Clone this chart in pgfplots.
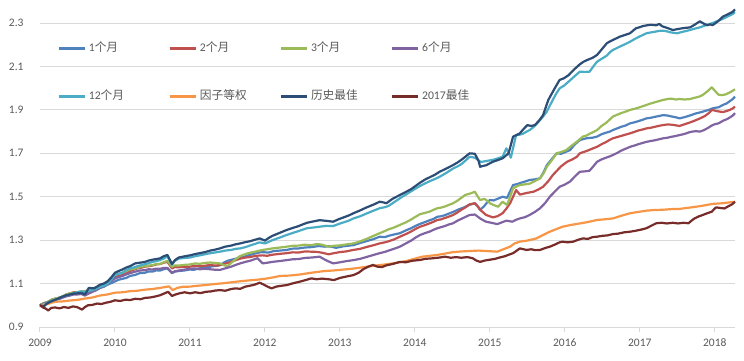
\documentclass[border=0pt]{standalone}
\usepackage{fontspec}
\setmainfont{Carlito}
\newfontfamily\cjk{Noto Sans CJK SC}
\usepackage{pgfplots}
\pgfplotsset{compat=1.18}
\definecolor{s1}{HTML}{4F81BD}
\definecolor{s2}{HTML}{C0504D}
\definecolor{s3}{HTML}{9BBB59}
\definecolor{s4}{HTML}{8064A2}
\definecolor{s5}{HTML}{4BACC6}
\definecolor{s6}{HTML}{F79646}
\definecolor{s7}{HTML}{2C4D75}
\definecolor{s8}{HTML}{772C2A}
\definecolor{txt}{HTML}{595959}
\definecolor{grd}{HTML}{D9D9D9}
\newcommand{\legtxt}[1]{\makebox[79.5pt][l]{#1}}
\begin{document}
\begin{tikzpicture}
\useasboundingbox (-40pt,-33pt) rectangle (704pt,327pt);
\begin{axis}[
  at={(0pt,0pt)}, anchor=south west,
  scale only axis, width=695pt, height=325.65pt,
  xmin=2009, xmax=2018.27, ymin=0.9, ymax=2.4,
  axis x line*=bottom, axis y line*=left,
  y axis line style={draw=none},
  x axis line style={draw=grd, line width=1pt},
  xtick={2009,2010,...,2018},
  ytick={0.9,1.1,1.3,1.5,1.7,1.9,2.1,2.3},
  xticklabels={2009,2010,2011,2012,2013,2014,2015,2016,2017,2018},
  yticklabels={0.9,1.1,1.3,1.5,1.7,1.9,2.1,2.3},
  tick align=outside,
  major tick length=5pt,
  xtick style={draw=grd, line width=1pt},
  ytick style={draw=none},
  ymajorgrids, grid style={draw=grd, line width=1pt},
  tick label style={font=\fontsize{11.5}{13}\selectfont, text=txt},
  yticklabel style={xshift=-8pt},
  xticklabel style={yshift=-3pt},
  clip=false,
  every axis plot/.append style={line width=2.2pt, line join=round},
  legend columns=4,
  legend cell align=left,
  legend style={at={(axis description cs:0.0245,0.872)}, anchor=north west,
    draw=none, fill=none, inner sep=0pt, row sep=38pt,
    font=\fontsize{11.7}{13}\selectfont, text=txt,
    nodes={inner sep=0pt, text height=8pt, text depth=2pt},
    /tikz/every odd column/.append style={column sep=3pt}},
  legend image code/.code={\draw[#1, line width=2.6pt] (0pt,0pt) -- (26pt,0pt);},
]
% 1个月
\addplot[s1] coordinates {
(2009.00,1.000)(2009.05,1.008)(2009.10,1.012)(2009.15,1.024)(2009.20,1.030)(2009.25,1.033)(2009.30,1.040)(2009.35,1.046)(2009.40,1.050)(2009.45,1.056)(2009.50,1.055)(2009.55,1.058)(2009.60,1.050)(2009.65,1.058)(2009.70,1.065)(2009.75,1.070)(2009.80,1.080)(2009.85,1.085)(2009.90,1.095)(2009.95,1.102)
(2010.00,1.110)(2010.05,1.118)(2010.10,1.122)(2010.15,1.126)(2010.20,1.135)(2010.27,1.140)(2010.33,1.148)(2010.40,1.150)(2010.45,1.156)(2010.50,1.155)(2010.55,1.161)(2010.60,1.160)(2010.65,1.166)(2010.70,1.170)(2010.76,1.148)(2010.80,1.155)(2010.85,1.158)(2010.92,1.160)
(2011.00,1.165)(2011.05,1.163)(2011.10,1.168)(2011.15,1.172)(2011.20,1.175)(2011.25,1.176)(2011.30,1.180)(2011.35,1.181)(2011.40,1.185)(2011.45,1.196)(2011.50,1.205)(2011.58,1.212)(2011.67,1.220)(2011.73,1.224)(2011.80,1.232)(2011.88,1.240)(2011.95,1.245)(2012.05,1.243)(2012.12,1.250)(2012.20,1.252)(2012.29,1.255)(2012.37,1.261)(2012.45,1.262)(2012.53,1.266)(2012.62,1.268)(2012.72,1.273)(2012.80,1.270)(2012.85,1.272)(2012.95,1.265)
(2013.05,1.272)(2013.10,1.274)(2013.18,1.277)(2013.27,1.287)(2013.35,1.295)(2013.45,1.305)(2013.53,1.316)(2013.60,1.314)(2013.65,1.320)(2013.72,1.326)(2013.80,1.332)(2013.88,1.345)(2013.95,1.355)(2014.01,1.366)(2014.07,1.375)(2014.14,1.384)(2014.20,1.392)(2014.25,1.398)(2014.30,1.408)(2014.35,1.410)(2014.40,1.415)(2014.45,1.422)(2014.51,1.430)(2014.58,1.441)(2014.65,1.450)(2014.72,1.462)(2014.80,1.470)(2014.84,1.455)(2014.87,1.440)(2014.92,1.455)(2014.96,1.472)
(2015.00,1.485)(2015.05,1.483)(2015.10,1.490)(2015.17,1.500)(2015.23,1.495)(2015.27,1.525)(2015.31,1.554)(2015.36,1.558)(2015.42,1.565)(2015.47,1.570)(2015.53,1.577)(2015.60,1.580)(2015.67,1.585)(2015.72,1.615)(2015.76,1.645)(2015.83,1.675)(2015.89,1.700)(2015.95,1.698)
(2016.00,1.705)(2016.07,1.715)(2016.13,1.740)(2016.20,1.761)(2016.25,1.766)(2016.30,1.770)(2016.37,1.772)(2016.43,1.777)(2016.49,1.788)(2016.55,1.795)(2016.60,1.800)(2016.64,1.807)(2016.70,1.815)(2016.75,1.822)(2016.81,1.828)(2016.87,1.838)(2016.93,1.843)(2016.98,1.848)(2017.04,1.855)
(2017.09,1.861)(2017.15,1.864)(2017.20,1.868)(2017.26,1.872)(2017.31,1.876)(2017.37,1.874)(2017.42,1.870)(2017.48,1.866)(2017.53,1.861)(2017.59,1.866)(2017.65,1.872)(2017.70,1.878)(2017.75,1.884)(2017.81,1.889)(2017.87,1.895)(2017.92,1.900)(2017.97,1.907)(2018.01,1.910)(2018.05,1.912)(2018.11,1.923)(2018.16,1.930)(2018.20,1.940)(2018.24,1.950)(2018.27,1.961)};
\addlegendentry{\legtxt{1{\cjk 个月}}}
% 2个月
\addplot[s2] coordinates {
(2009.00,1.000)(2009.05,1.010)(2009.10,1.015)(2009.15,1.025)(2009.20,1.030)(2009.25,1.034)(2009.30,1.040)(2009.35,1.050)(2009.40,1.055)(2009.45,1.060)(2009.50,1.060)(2009.55,1.063)(2009.60,1.062)(2009.65,1.066)(2009.70,1.072)(2009.75,1.078)(2009.80,1.088)(2009.85,1.095)(2009.90,1.105)(2009.95,1.118)
(2010.00,1.131)(2010.05,1.135)(2010.10,1.140)(2010.15,1.150)(2010.20,1.158)(2010.25,1.164)(2010.30,1.170)(2010.35,1.173)(2010.40,1.178)(2010.45,1.180)(2010.50,1.183)(2010.55,1.188)(2010.60,1.190)(2010.65,1.196)(2010.70,1.200)(2010.76,1.170)(2010.80,1.176)(2010.85,1.175)(2010.92,1.178)
(2011.00,1.178)(2011.07,1.182)(2011.13,1.180)(2011.20,1.182)(2011.27,1.186)(2011.33,1.183)(2011.40,1.185)(2011.47,1.192)(2011.55,1.200)(2011.61,1.208)(2011.67,1.215)(2011.74,1.220)(2011.80,1.222)(2011.88,1.228)(2011.97,1.230)(2012.03,1.228)(2012.10,1.233)(2012.20,1.237)(2012.29,1.240)(2012.37,1.244)(2012.45,1.243)(2012.53,1.248)(2012.62,1.247)(2012.69,1.246)(2012.75,1.243)(2012.85,1.235)(2012.92,1.240)
(2013.00,1.245)(2013.08,1.248)(2013.18,1.255)(2013.27,1.260)(2013.35,1.268)(2013.45,1.277)(2013.53,1.285)(2013.60,1.290)(2013.65,1.295)(2013.72,1.303)(2013.80,1.316)(2013.88,1.328)(2013.95,1.340)(2014.01,1.352)(2014.07,1.362)(2014.14,1.370)(2014.20,1.378)(2014.25,1.385)(2014.30,1.393)(2014.35,1.396)(2014.40,1.402)(2014.45,1.408)(2014.51,1.416)(2014.57,1.428)(2014.62,1.440)(2014.68,1.452)(2014.73,1.465)(2014.80,1.470)(2014.84,1.455)(2014.87,1.440)(2014.91,1.428)(2014.95,1.416)
(2015.00,1.410)(2015.04,1.405)(2015.10,1.410)(2015.17,1.424)(2015.22,1.445)(2015.27,1.470)(2015.31,1.500)(2015.35,1.531)(2015.40,1.510)(2015.45,1.514)(2015.50,1.518)(2015.58,1.523)(2015.64,1.532)(2015.71,1.546)(2015.78,1.572)(2015.84,1.600)(2015.90,1.622)(2015.95,1.640)
(2016.03,1.661)(2016.10,1.672)(2016.16,1.684)(2016.20,1.700)(2016.25,1.706)(2016.30,1.712)(2016.37,1.722)(2016.43,1.730)(2016.49,1.742)(2016.55,1.752)(2016.60,1.762)(2016.64,1.769)(2016.70,1.775)(2016.75,1.780)(2016.81,1.786)(2016.87,1.792)(2016.93,1.799)(2016.98,1.805)(2017.04,1.810)
(2017.09,1.815)(2017.15,1.818)(2017.20,1.822)(2017.26,1.827)(2017.31,1.830)(2017.37,1.833)(2017.42,1.832)(2017.48,1.829)(2017.53,1.826)(2017.59,1.833)(2017.65,1.840)(2017.70,1.846)(2017.75,1.853)(2017.81,1.862)(2017.87,1.872)(2017.92,1.885)(2017.96,1.900)(2018.01,1.896)(2018.05,1.893)(2018.11,1.890)(2018.16,1.895)(2018.20,1.900)(2018.24,1.907)(2018.27,1.915)};
\addlegendentry{\legtxt{2{\cjk 个月}}}
% 3个月
\addplot[s3] coordinates {
(2009.00,1.000)(2009.05,1.010)(2009.10,1.015)(2009.15,1.025)(2009.20,1.030)(2009.25,1.035)(2009.30,1.040)(2009.35,1.050)(2009.40,1.055)(2009.45,1.058)(2009.50,1.060)(2009.55,1.064)(2009.60,1.065)(2009.65,1.070)(2009.70,1.077)(2009.75,1.082)(2009.80,1.090)(2009.85,1.098)(2009.90,1.110)(2009.95,1.124)
(2010.00,1.140)(2010.05,1.146)(2010.10,1.150)(2010.15,1.158)(2010.20,1.165)(2010.25,1.168)(2010.30,1.172)(2010.35,1.178)(2010.40,1.180)(2010.45,1.183)(2010.50,1.185)(2010.55,1.190)(2010.60,1.190)(2010.65,1.198)(2010.70,1.205)(2010.76,1.177)(2010.80,1.184)(2010.85,1.183)(2010.92,1.186)
(2011.00,1.188)(2011.07,1.193)(2011.13,1.191)(2011.20,1.195)(2011.27,1.197)(2011.33,1.195)(2011.40,1.193)(2011.45,1.185)(2011.50,1.180)(2011.55,1.195)(2011.60,1.210)(2011.67,1.227)(2011.74,1.236)(2011.80,1.242)(2011.88,1.248)(2011.97,1.255)(2012.03,1.258)(2012.10,1.262)(2012.20,1.266)(2012.29,1.270)(2012.37,1.274)(2012.45,1.275)(2012.53,1.279)(2012.62,1.277)(2012.69,1.282)(2012.75,1.280)(2012.85,1.270)(2012.92,1.274)
(2013.00,1.276)(2013.08,1.280)(2013.18,1.285)(2013.27,1.294)(2013.35,1.305)(2013.45,1.320)(2013.53,1.332)(2013.60,1.342)(2013.65,1.350)(2013.72,1.358)(2013.80,1.370)(2013.88,1.382)(2013.95,1.395)(2014.01,1.408)(2014.07,1.420)(2014.14,1.426)(2014.20,1.432)(2014.25,1.440)(2014.30,1.447)(2014.35,1.450)(2014.40,1.455)(2014.45,1.462)(2014.51,1.470)(2014.56,1.480)(2014.60,1.490)(2014.67,1.508)(2014.74,1.515)(2014.80,1.523)(2014.84,1.500)(2014.87,1.485)(2014.93,1.490)(2014.97,1.480)
(2015.00,1.470)(2015.05,1.462)(2015.11,1.454)(2015.17,1.477)(2015.23,1.462)(2015.27,1.500)(2015.31,1.539)(2015.36,1.548)(2015.40,1.554)(2015.47,1.557)(2015.53,1.560)(2015.60,1.572)(2015.67,1.585)(2015.72,1.610)(2015.76,1.638)(2015.83,1.670)(2015.89,1.700)(2015.95,1.706)
(2016.02,1.715)(2016.09,1.735)(2016.16,1.753)(2016.24,1.777)(2016.29,1.782)(2016.33,1.790)(2016.38,1.798)(2016.43,1.807)(2016.49,1.826)(2016.55,1.840)(2016.60,1.856)(2016.64,1.869)(2016.70,1.878)(2016.75,1.885)(2016.81,1.892)(2016.87,1.900)(2016.93,1.905)(2016.98,1.910)(2017.04,1.917)
(2017.09,1.923)(2017.15,1.930)(2017.20,1.935)(2017.26,1.941)(2017.31,1.946)(2017.37,1.950)(2017.42,1.952)(2017.48,1.948)(2017.53,1.950)(2017.60,1.948)(2017.67,1.950)(2017.72,1.955)(2017.76,1.958)(2017.80,1.962)(2017.84,1.969)(2017.90,1.985)(2017.96,2.004)(2018.01,1.985)(2018.05,1.970)(2018.10,1.968)(2018.15,1.972)(2018.21,1.982)(2018.27,1.995)};
\addlegendentry{\legtxt{3{\cjk 个月}}}
% 6个月
\addplot[s4] coordinates {
(2009.00,1.000)(2009.05,1.008)(2009.10,1.012)(2009.15,1.020)(2009.20,1.025)(2009.25,1.028)(2009.30,1.035)(2009.35,1.041)(2009.40,1.045)(2009.45,1.050)(2009.50,1.050)(2009.55,1.052)(2009.60,1.045)(2009.65,1.054)(2009.70,1.062)(2009.75,1.070)(2009.80,1.080)(2009.85,1.090)(2009.90,1.100)(2009.95,1.112)
(2010.00,1.124)(2010.05,1.130)(2010.10,1.135)(2010.15,1.142)(2010.20,1.148)(2010.27,1.155)(2010.33,1.160)(2010.40,1.162)(2010.45,1.166)(2010.50,1.165)(2010.55,1.169)(2010.60,1.168)(2010.65,1.172)(2010.70,1.172)(2010.76,1.150)(2010.80,1.157)(2010.85,1.160)(2010.92,1.164)
(2011.00,1.168)(2011.07,1.170)(2011.13,1.166)(2011.20,1.168)(2011.27,1.166)(2011.33,1.164)(2011.40,1.163)(2011.47,1.170)(2011.55,1.178)(2011.61,1.186)(2011.67,1.193)(2011.74,1.200)(2011.80,1.205)(2011.86,1.212)(2011.90,1.217)(2011.97,1.193)(2012.03,1.196)(2012.10,1.200)(2012.20,1.204)(2012.29,1.208)(2012.37,1.212)(2012.45,1.213)(2012.53,1.218)(2012.62,1.220)(2012.68,1.222)(2012.73,1.224)(2012.78,1.214)(2012.83,1.205)(2012.91,1.193)
(2013.00,1.198)(2013.08,1.203)(2013.18,1.208)(2013.27,1.214)(2013.35,1.222)(2013.45,1.232)(2013.53,1.240)(2013.60,1.246)(2013.65,1.252)(2013.72,1.260)(2013.80,1.270)(2013.88,1.285)(2013.95,1.298)(2014.01,1.312)(2014.07,1.324)(2014.14,1.333)(2014.20,1.340)(2014.25,1.348)(2014.30,1.355)(2014.35,1.360)(2014.40,1.365)(2014.45,1.372)(2014.51,1.378)(2014.57,1.390)(2014.62,1.398)(2014.68,1.408)(2014.73,1.416)(2014.80,1.418)(2014.84,1.408)(2014.87,1.400)(2014.91,1.392)(2014.95,1.385)
(2015.02,1.380)(2015.10,1.374)(2015.16,1.382)(2015.22,1.390)(2015.30,1.385)(2015.35,1.394)(2015.40,1.400)(2015.47,1.406)(2015.53,1.416)(2015.60,1.430)(2015.67,1.447)(2015.74,1.472)(2015.80,1.500)(2015.87,1.525)(2015.93,1.546)(2016.00,1.556)
(2016.07,1.570)(2016.13,1.592)(2016.20,1.615)(2016.27,1.617)(2016.33,1.620)(2016.38,1.640)(2016.43,1.661)(2016.49,1.672)(2016.55,1.680)(2016.60,1.686)(2016.64,1.692)(2016.70,1.702)(2016.75,1.712)(2016.81,1.721)(2016.87,1.730)(2016.93,1.736)(2016.98,1.742)(2017.04,1.748)
(2017.09,1.753)(2017.15,1.757)(2017.20,1.760)(2017.26,1.765)(2017.31,1.769)(2017.37,1.772)(2017.42,1.776)(2017.48,1.780)(2017.53,1.784)(2017.58,1.788)(2017.62,1.792)(2017.66,1.797)(2017.70,1.800)(2017.75,1.802)(2017.80,1.800)(2017.85,1.806)(2017.90,1.815)(2017.97,1.830)(2018.01,1.835)(2018.05,1.838)(2018.11,1.850)(2018.16,1.857)(2018.20,1.865)(2018.24,1.874)(2018.27,1.885)};
\addlegendentry{\legtxt{6{\cjk 个月}}}
% 12个月
\addplot[s5] coordinates {
(2009.00,1.000)(2009.05,1.006)(2009.10,1.010)(2009.15,1.020)(2009.20,1.025)(2009.25,1.032)(2009.30,1.040)(2009.35,1.046)(2009.40,1.050)(2009.45,1.056)(2009.50,1.060)(2009.55,1.064)(2009.60,1.062)(2009.65,1.066)(2009.70,1.070)(2009.75,1.076)(2009.80,1.085)(2009.85,1.090)(2009.90,1.100)(2009.95,1.118)
(2010.00,1.140)(2010.05,1.145)(2010.10,1.150)(2010.15,1.162)(2010.20,1.170)(2010.25,1.174)(2010.30,1.180)(2010.35,1.185)(2010.40,1.190)(2010.45,1.194)(2010.50,1.200)(2010.55,1.203)(2010.60,1.208)(2010.65,1.215)(2010.70,1.225)(2010.76,1.188)(2010.80,1.205)(2010.85,1.215)(2010.92,1.218)
(2011.00,1.220)(2011.07,1.226)(2011.13,1.230)(2011.20,1.235)(2011.27,1.240)(2011.33,1.243)(2011.40,1.247)(2011.47,1.252)(2011.55,1.255)(2011.61,1.260)(2011.67,1.262)(2011.74,1.268)(2011.80,1.275)(2011.87,1.283)(2011.93,1.290)(2012.00,1.285)(2012.05,1.292)(2012.10,1.300)(2012.20,1.312)(2012.29,1.324)(2012.37,1.333)(2012.45,1.342)(2012.50,1.348)(2012.56,1.355)(2012.64,1.358)(2012.73,1.362)(2012.82,1.366)(2012.91,1.365)
(2012.98,1.374)(2013.05,1.382)(2013.12,1.390)(2013.18,1.400)(2013.27,1.410)(2013.35,1.422)(2013.45,1.436)(2013.53,1.447)(2013.60,1.452)(2013.65,1.458)(2013.72,1.474)(2013.80,1.493)(2013.88,1.510)(2013.95,1.525)(2014.01,1.538)(2014.07,1.550)(2014.14,1.562)(2014.20,1.572)(2014.27,1.582)(2014.33,1.592)(2014.42,1.610)(2014.51,1.630)(2014.57,1.640)(2014.62,1.650)(2014.68,1.668)(2014.73,1.684)(2014.80,1.680)(2014.84,1.670)(2014.88,1.660)(2014.96,1.665)
(2015.04,1.670)(2015.10,1.676)(2015.17,1.684)(2015.22,1.723)(2015.28,1.680)(2015.35,1.784)(2015.40,1.786)(2015.44,1.790)(2015.49,1.800)(2015.53,1.807)(2015.58,1.820)(2015.63,1.838)(2015.70,1.865)(2015.76,1.892)(2015.80,1.920)(2015.84,1.946)(2015.88,1.972)(2015.93,1.999)(2015.99,2.012)
(2016.05,2.030)(2016.12,2.052)(2016.20,2.076)(2016.27,2.075)(2016.33,2.076)(2016.38,2.100)(2016.43,2.122)(2016.49,2.135)(2016.56,2.150)(2016.60,2.165)(2016.64,2.176)(2016.69,2.184)(2016.73,2.191)(2016.80,2.202)(2016.87,2.214)(2016.93,2.226)(2016.98,2.235)(2017.04,2.245)
(2017.09,2.253)(2017.15,2.257)(2017.20,2.260)(2017.26,2.264)(2017.31,2.265)(2017.36,2.262)(2017.40,2.258)(2017.45,2.255)(2017.50,2.253)(2017.55,2.258)(2017.60,2.262)(2017.67,2.268)(2017.73,2.274)(2017.80,2.280)(2017.88,2.290)(2017.97,2.300)(2018.04,2.310)(2018.11,2.320)(2018.16,2.328)(2018.20,2.335)(2018.24,2.342)(2018.27,2.350)};
\addlegendentry{\legtxt{12{\cjk 个月}}}
% 因子等权
\addplot[s6] coordinates {
(2009.00,1.000)(2009.05,1.003)(2009.10,1.005)(2009.15,1.012)(2009.20,1.016)(2009.30,1.018)(2009.40,1.022)(2009.50,1.025)(2009.60,1.031)(2009.70,1.036)(2009.80,1.045)(2009.90,1.050)
(2010.00,1.058)(2010.10,1.060)(2010.20,1.065)(2010.30,1.067)(2010.40,1.072)(2010.50,1.075)(2010.60,1.080)(2010.72,1.087)(2010.77,1.070)(2010.83,1.080)(2010.90,1.085)(2011.00,1.086)
(2011.07,1.089)(2011.20,1.093)(2011.33,1.098)(2011.43,1.101)(2011.53,1.105)(2011.65,1.110)(2011.80,1.115)(2011.90,1.118)(2012.00,1.122)(2012.10,1.128)(2012.20,1.135)(2012.33,1.137)(2012.47,1.142)(2012.62,1.150)(2012.80,1.158)(2012.90,1.160)
(2013.00,1.163)(2013.15,1.168)(2013.31,1.175)(2013.45,1.182)(2013.60,1.188)(2013.75,1.195)(2013.90,1.205)(2014.00,1.215)(2014.10,1.224)(2014.20,1.228)(2014.30,1.232)(2014.40,1.238)(2014.51,1.245)(2014.62,1.248)(2014.73,1.250)(2014.85,1.252)(2014.95,1.250)
(2015.10,1.247)(2015.18,1.258)(2015.27,1.270)(2015.33,1.285)(2015.40,1.293)(2015.50,1.298)(2015.62,1.308)(2015.70,1.322)(2015.80,1.339)(2015.88,1.350)(2015.97,1.362)(2016.08,1.370)
(2016.20,1.377)(2016.30,1.383)(2016.43,1.393)(2016.53,1.396)(2016.64,1.400)(2016.75,1.412)(2016.87,1.424)(2016.98,1.430)(2017.09,1.436)(2017.20,1.439)(2017.31,1.440)(2017.42,1.443)(2017.53,1.444)(2017.64,1.449)(2017.75,1.454)(2017.86,1.460)(2017.97,1.467)(2018.10,1.470)(2018.20,1.474)(2018.27,1.477)};
\addlegendentry{\legtxt{\cjk 因子等权}}
% 历史最佳
\addplot[s7] coordinates {
(2009.00,1.000)(2009.05,0.995)(2009.10,1.010)(2009.15,1.018)(2009.20,1.025)(2009.25,1.032)(2009.30,1.040)(2009.35,1.046)(2009.40,1.050)(2009.45,1.054)(2009.50,1.055)(2009.55,1.057)(2009.60,1.050)(2009.65,1.080)(2009.72,1.078)(2009.76,1.086)(2009.80,1.095)(2009.85,1.100)(2009.90,1.110)(2009.95,1.128)
(2010.00,1.150)(2010.05,1.158)(2010.10,1.165)(2010.15,1.174)(2010.20,1.180)(2010.27,1.193)(2010.33,1.196)(2010.40,1.200)(2010.45,1.206)(2010.50,1.210)(2010.55,1.213)(2010.60,1.216)(2010.65,1.226)(2010.70,1.232)(2010.76,1.190)(2010.80,1.208)(2010.85,1.220)(2010.92,1.225)
(2011.00,1.230)(2011.07,1.236)(2011.13,1.240)(2011.20,1.245)(2011.27,1.252)(2011.33,1.256)(2011.40,1.262)(2011.47,1.270)(2011.55,1.275)(2011.61,1.281)(2011.67,1.285)(2011.74,1.291)(2011.80,1.295)(2011.87,1.302)(2011.93,1.308)(2012.00,1.298)(2012.05,1.310)(2012.10,1.320)(2012.20,1.334)(2012.29,1.347)(2012.37,1.356)(2012.45,1.365)(2012.50,1.372)(2012.56,1.380)(2012.64,1.386)(2012.73,1.392)(2012.82,1.389)(2012.91,1.385)
(2012.98,1.396)(2013.05,1.405)(2013.12,1.414)(2013.18,1.424)(2013.27,1.437)(2013.35,1.450)(2013.45,1.464)(2013.53,1.477)(2013.58,1.474)(2013.62,1.470)(2013.70,1.490)(2013.80,1.508)(2013.88,1.522)(2013.95,1.535)(2014.01,1.550)(2014.07,1.565)(2014.14,1.580)(2014.20,1.590)(2014.27,1.602)(2014.33,1.615)(2014.42,1.630)(2014.51,1.646)(2014.57,1.658)(2014.62,1.670)(2014.68,1.686)(2014.73,1.700)(2014.80,1.698)(2014.85,1.665)(2014.87,1.638)(2014.91,1.642)(2014.95,1.645)
(2015.04,1.661)(2015.10,1.668)(2015.17,1.677)(2015.25,1.700)(2015.31,1.777)(2015.36,1.785)(2015.40,1.792)(2015.45,1.812)(2015.50,1.830)(2015.55,1.826)(2015.60,1.830)(2015.66,1.852)(2015.71,1.876)(2015.78,1.946)(2015.85,1.990)(2015.93,2.038)(2015.99,2.046)
(2016.05,2.060)(2016.12,2.085)(2016.20,2.110)(2016.25,2.122)(2016.30,2.130)(2016.37,2.140)(2016.43,2.153)(2016.50,2.182)(2016.56,2.207)(2016.60,2.215)(2016.64,2.222)(2016.69,2.230)(2016.73,2.237)(2016.80,2.245)(2016.87,2.253)(2016.91,2.265)(2016.95,2.276)(2017.00,2.281)
(2017.04,2.286)(2017.10,2.290)(2017.15,2.292)(2017.22,2.290)(2017.26,2.296)(2017.30,2.285)(2017.37,2.277)(2017.44,2.268)(2017.50,2.272)(2017.55,2.275)(2017.61,2.278)(2017.67,2.280)(2017.73,2.292)(2017.80,2.308)(2017.85,2.298)(2017.90,2.290)(2017.94,2.294)(2017.97,2.290)(2018.01,2.300)(2018.05,2.310)(2018.11,2.330)(2018.16,2.338)(2018.20,2.345)(2018.24,2.352)(2018.27,2.363)};
\addlegendentry{\legtxt{\cjk 历史最佳}}
% 2017最佳
\addplot[s8] coordinates {
(2009.00,1.000)(2009.04,0.990)(2009.08,0.984)(2009.11,0.976)(2009.15,0.988)(2009.20,0.990)(2009.26,0.986)(2009.32,0.992)(2009.38,0.988)(2009.44,0.995)(2009.50,0.991)(2009.56,0.980)(2009.60,0.992)(2009.64,1.000)(2009.70,1.002)(2009.76,1.008)(2009.82,1.006)(2009.88,1.012)(2009.94,1.016)
(2010.00,1.023)(2010.07,1.020)(2010.14,1.026)(2010.20,1.024)(2010.27,1.030)(2010.34,1.028)(2010.40,1.034)(2010.47,1.036)(2010.53,1.040)(2010.60,1.046)(2010.66,1.055)(2010.71,1.062)(2010.76,1.043)(2010.81,1.050)(2010.87,1.056)(2010.93,1.060)
(2011.00,1.055)(2011.07,1.060)(2011.14,1.056)(2011.21,1.062)(2011.28,1.064)(2011.34,1.068)(2011.40,1.070)(2011.47,1.067)(2011.54,1.074)(2011.60,1.078)(2011.67,1.076)(2011.74,1.086)(2011.80,1.090)(2011.87,1.096)(2011.93,1.104)(2011.98,1.096)(2012.04,1.085)(2012.09,1.078)(2012.15,1.086)(2012.22,1.090)(2012.29,1.093)(2012.36,1.100)(2012.43,1.106)(2012.50,1.112)(2012.56,1.118)(2012.62,1.124)(2012.69,1.120)(2012.76,1.123)(2012.85,1.120)(2012.92,1.116)
(2013.00,1.126)(2013.08,1.132)(2013.18,1.139)(2013.25,1.150)(2013.32,1.168)(2013.38,1.178)(2013.44,1.186)(2013.50,1.178)(2013.56,1.176)(2013.62,1.184)(2013.70,1.190)(2013.80,1.200)(2013.88,1.198)(2013.96,1.205)(2014.07,1.209)(2014.14,1.214)(2014.22,1.216)(2014.33,1.220)(2014.40,1.224)(2014.48,1.219)(2014.55,1.222)(2014.62,1.219)(2014.70,1.222)(2014.77,1.217)(2014.82,1.206)(2014.87,1.200)(2014.93,1.206)
(2015.00,1.210)(2015.07,1.214)(2015.13,1.220)(2015.20,1.226)(2015.26,1.234)(2015.31,1.240)(2015.36,1.252)(2015.40,1.262)(2015.45,1.258)(2015.49,1.255)(2015.55,1.258)(2015.61,1.254)(2015.67,1.255)(2015.74,1.264)(2015.80,1.270)(2015.87,1.280)(2015.93,1.290)(2015.97,1.293)(2016.04,1.290)
(2016.11,1.293)(2016.18,1.302)(2016.24,1.308)(2016.31,1.306)(2016.37,1.314)(2016.43,1.316)(2016.50,1.320)(2016.57,1.322)(2016.64,1.328)(2016.71,1.330)(2016.79,1.336)(2016.87,1.339)(2016.94,1.343)(2017.01,1.348)(2017.09,1.355)(2017.15,1.366)(2017.22,1.378)(2017.29,1.380)(2017.36,1.377)(2017.44,1.380)(2017.51,1.377)(2017.58,1.380)(2017.65,1.378)(2017.69,1.390)(2017.73,1.400)(2017.79,1.410)(2017.84,1.416)(2017.90,1.424)(2017.96,1.431)(2018.00,1.446)(2018.02,1.451)(2018.08,1.448)(2018.13,1.446)(2018.18,1.456)(2018.23,1.465)(2018.27,1.477)};
\addlegendentry{\legtxt{2017{\cjk 最佳}}}
\end{axis}
\end{tikzpicture}
\end{document}
